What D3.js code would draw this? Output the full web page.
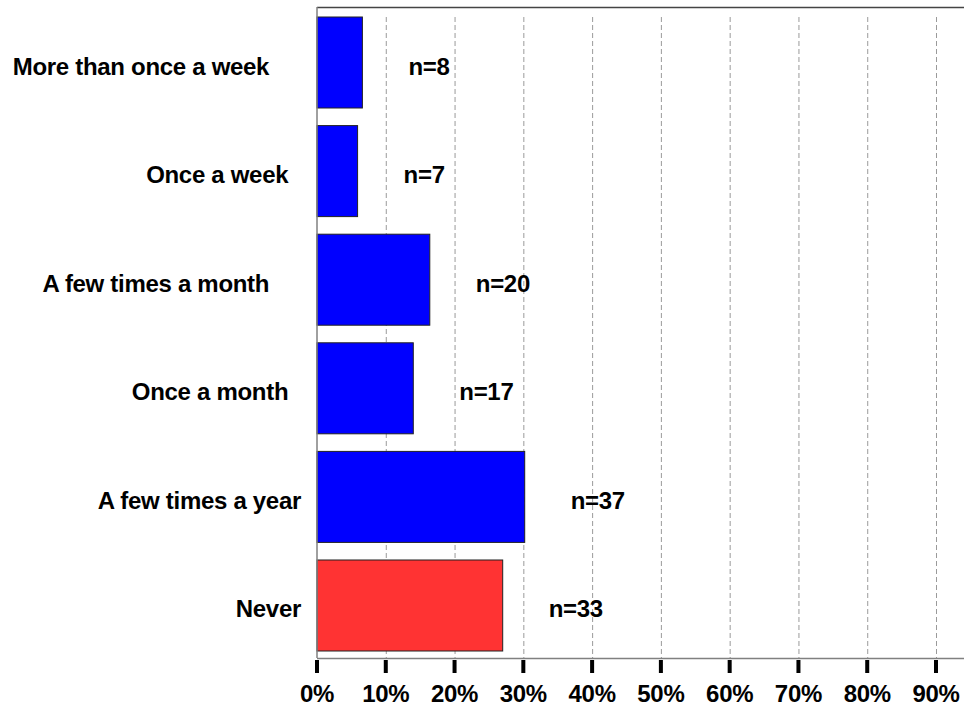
<!DOCTYPE html>
<html>
<head>
<meta charset="utf-8">
<script src="https://cdn.jsdelivr.net/npm/d3@7/dist/d3.min.js"></script>
<style>
  html, body { margin: 0; padding: 0; background: #fff; }
  svg { display: block; }
  text { font-family: "Liberation Sans", Arial, sans-serif; font-weight: bold; fill: #000; white-space: pre; letter-spacing: -0.3px; }
</style>
</head>
<body>
<svg id="chart" width="964" height="708"></svg>
<script>
// ---- data ----
const categories = [
  "More than once a week",
  "Once a week",
  "A few times a month",
  "Once a month",
  "A few times a year",
  "Never"
];
// trailing spaces as in the original category labels
const labelPadding = [5, 2, 5, 2, 0, 0];
const percents = [6.6, 5.9, 16.4, 14.0, 30.2, 27.0];
const counts = [8, 7, 20, 17, 37, 33];
const barColors = ["#0000FF", "#0000FF", "#0000FF", "#0000FF", "#0000FF", "#FF3333"];
const tickValues = [0, 10, 20, 30, 40, 50, 60, 70, 80, 90];
const tickLabels = ["0%", "10%", "20%", "30%", "40%", "50%", "60%", "70%", "80%", "90%"];

(function () {
// ---- layout ----
const svg = d3.select("#chart");
const mLeft = 317, mRight = 936, mTop = 17, mBottom = 651, axisY = 658, frameTop = 7;
const fs = "24px";

const x = d3.scaleLinear().domain([0, 90]).range([mLeft, mRight]);
const y = d3.scaleBand().domain(categories).range([mTop, mBottom]).paddingInner(0.162).paddingOuter(0);

// gridlines
svg.append("g").selectAll("line").data(tickValues.filter(v => v > 0)).join("line")
  .attr("x1", d => x(d) + 0.5).attr("x2", d => x(d) + 0.5)
  .attr("y1", mTop).attr("y2", axisY)
  .attr("stroke", "#9a9a9a").attr("stroke-width", 1)
  .attr("stroke-dasharray", "5,3");

// top frame line
svg.append("line")
  .attr("x1", mLeft).attr("x2", 964).attr("y1", frameTop + 0.5).attr("y2", frameTop + 0.5)
  .attr("stroke", "#444").attr("stroke-width", 1.5);

// bars
svg.append("g").selectAll("rect").data(categories).join("rect")
  .attr("x", mLeft)
  .attr("y", d => y(d))
  .attr("width", (d, i) => x(percents[i]) - mLeft)
  .attr("height", y.bandwidth())
  .attr("fill", (d, i) => barColors[i])
  .attr("stroke", "#222").attr("stroke-width", 1);

// left axis line
svg.append("line")
  .attr("x1", mLeft).attr("x2", mLeft).attr("y1", frameTop).attr("y2", axisY)
  .attr("stroke", "#808080").attr("stroke-width", 1.5);

// bottom axis
const xAxis = d3.axisBottom(x).tickValues(tickValues)
  .tickFormat((d, i) => tickLabels[i]).tickSize(0).tickPadding(0);
const gx = svg.append("g").attr("transform", `translate(0,${axisY})`).call(xAxis);
gx.select(".domain").remove();
gx.selectAll(".tick text").remove();
svg.append("line")
  .attr("x1", mLeft).attr("x2", 964).attr("y1", axisY + 0.5).attr("y2", axisY + 0.5)
  .attr("stroke", "#808080").attr("stroke-width", 1.5);
svg.append("g").selectAll("rect").data(tickValues).join("rect")
  .attr("x", d => x(d) - 2).attr("y", axisY + 2)
  .attr("width", 4).attr("height", 13)
  .attr("fill", "#000");
svg.append("g").selectAll("text").data(tickValues).join("text")
  .attr("x", d => x(d))
  .attr("y", 702)
  .attr("text-anchor", "middle")
  .style("font-size", fs)
  .text((d, i) => tickLabels[i]);

// category labels
svg.append("g").selectAll("text").data(categories).join("text")
  .attr("x", 301)
  .attr("y", d => y(d) + y.bandwidth() / 2 + 12)
  .attr("text-anchor", "end")
  .style("font-size", fs)
  .text((d, i) => d + " ".repeat(labelPadding[i]));

// n labels
svg.append("g").selectAll("text").data(categories).join("text")
  .attr("x", (d, i) => x(percents[i]) + 46)
  .attr("y", d => y(d) + y.bandwidth() / 2 + 12)
  .attr("text-anchor", "start")
  .style("font-size", fs)
  .text((d, i) => "n=" + counts[i]);
})();
</script>
</body>
</html>
